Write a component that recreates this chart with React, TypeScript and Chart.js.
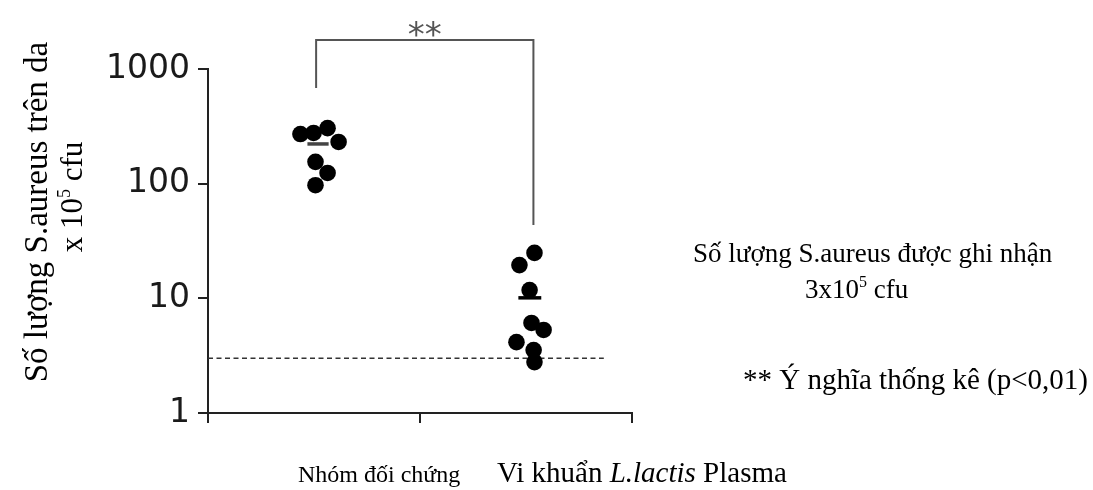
import React, { useEffect, useRef } from "react";
import { Chart, registerables } from "chart.js";

Chart.register(...registerables);

// ---- data ----
const Y_TICKS = [1, 10, 100, 1000];
const X_TICKS = [0, 1, 2];
const CONTROL_X = [0.436, 0.498, 0.564, 0.616, 0.507, 0.564, 0.507];
const CONTROL_Y = [271, 277, 305, 231, 155, 124, 97];
const PLASMA_X = [1.469, 1.54, 1.517, 1.526, 1.583, 1.455, 1.536, 1.54];
const PLASMA_Y = [19.5, 24.9, 11.8, 6.1, 5.3, 4.15, 3.54, 2.78];
const MEAN_CENTER_X = [0.519, 1.518];
const MEAN_HALF_WIDTH = [0.05, 0.054];
const MEAN_Y = [222, 10.1];
const DETECTION_LIMIT = 3;
const DETECTION_LINE_X = [0, 1.867];
const BRACKET_X = [0.51, 1.535];
const BRACKET_Y = [683, 1790, 43.6];
const CATEGORY_LABELS = ["Nhóm đối chứng", "Vi khuẩn ", "L.lactis", " Plasma"];
const Y_TITLE = ["Số lượng S.aureus trên da", "x 10", "5", " cfu"];
const NOTE_LINES = ["Số lượng S.aureus được ghi nhận", "3x10", "5", " cfu"];
const SIG_NOTE = "** Ý nghĩa thống kê (p<0,01)";
const SIG_MARK = "**";

const SERIF = '"Liberation Serif", "Times New Roman", serif';

function drawPieces(
  ctx: CanvasRenderingContext2D,
  pieces: { t: string; font: string; dy?: number }[],
  x: number,
  y: number,
  align: "left" | "center"
) {
  let total = 0;
  const widths = pieces.map((p) => {
    ctx.font = p.font;
    const w = ctx.measureText(p.t).width;
    total += w;
    return w;
  });
  let cx = align === "center" ? x - total / 2 : x;
  ctx.textAlign = "left";
  pieces.forEach((p, i) => {
    ctx.font = p.font;
    ctx.fillText(p.t, cx, y + (p.dy || 0));
    cx += widths[i];
  });
}

const textPlugin = {
  id: "textPlugin",
  afterDraw(chart: any) {
    const ctx: CanvasRenderingContext2D = chart.ctx;
    const xs = chart.scales.x;
    const ys = chart.scales.y;
    ctx.save();
    ctx.textBaseline = "alphabetic";

    // significance mark
    ctx.fillStyle = "#555";
    ctx.font = '34px "DejaVu Sans", sans-serif';
    ctx.textAlign = "center";
    const midX = xs.getPixelForValue((BRACKET_X[0] + BRACKET_X[1]) / 2);
    const topY = ys.getPixelForValue(BRACKET_Y[1]);
    ctx.fillText(SIG_MARK, midX, topY + 6);

    ctx.fillStyle = "#000";
    // y title (rotated)
    ctx.save();
    ctx.translate(47, 212);
    ctx.rotate(-Math.PI / 2);
    ctx.font = `33px ${SERIF}`;
    ctx.textAlign = "center";
    ctx.fillText(Y_TITLE[0], 0, 0);
    ctx.restore();
    ctx.save();
    ctx.translate(82, 197);
    ctx.rotate(-Math.PI / 2);
    drawPieces(
      ctx,
      [
        { t: Y_TITLE[1], font: `31px ${SERIF}` },
        { t: Y_TITLE[2], font: `18px ${SERIF}`, dy: -12 },
        { t: Y_TITLE[3], font: `31px ${SERIF}` },
      ],
      0,
      0,
      "center"
    );
    ctx.restore();

    // category labels
    ctx.font = `24px ${SERIF}`;
    ctx.textAlign = "left";
    ctx.fillText(CATEGORY_LABELS[0], 298, 482);
    drawPieces(
      ctx,
      [
        { t: CATEGORY_LABELS[1], font: `29px ${SERIF}` },
        { t: CATEGORY_LABELS[2], font: `italic 29px ${SERIF}` },
        { t: CATEGORY_LABELS[3], font: `29px ${SERIF}` },
      ],
      497,
      482,
      "left"
    );

    // right notes
    ctx.font = `27px ${SERIF}`;
    ctx.textAlign = "left";
    ctx.fillText(NOTE_LINES[0], 693, 262);
    drawPieces(
      ctx,
      [
        { t: NOTE_LINES[1], font: `27px ${SERIF}` },
        { t: NOTE_LINES[2], font: `16px ${SERIF}`, dy: -11 },
        { t: NOTE_LINES[3], font: `27px ${SERIF}` },
      ],
      805,
      298,
      "left"
    );
    ctx.font = `29px ${SERIF}`;
    ctx.textAlign = "left";
    ctx.fillText(SIG_NOTE, 743, 389);
    ctx.restore();
  },
};

export default function App() {
  const ref = useRef<HTMLCanvasElement | null>(null);
  useEffect(() => {
    if (!ref.current) return;
    const pts = (xs: number[], ys: number[]) => xs.map((x, i) => ({ x, y: ys[i] }));
    const meanLine = (i: number) => [
      { x: MEAN_CENTER_X[i] - MEAN_HALF_WIDTH[i], y: MEAN_Y[i] },
      { x: MEAN_CENTER_X[i] + MEAN_HALF_WIDTH[i], y: MEAN_Y[i] },
    ];
    const lineBase = {
      type: "line" as const,
      showLine: true,
      pointRadius: 0,
      fill: false,
      tension: 0,
      clip: false as any,
    };
    const chart = new Chart(ref.current, {
      type: "scatter",
      data: {
        datasets: [
          {
            data: pts(CONTROL_X, CONTROL_Y),
            backgroundColor: "#000",
            borderWidth: 0,
            pointRadius: 8.3,
            order: 0,
          },
          {
            data: pts(PLASMA_X, PLASMA_Y),
            backgroundColor: "#000",
            borderWidth: 0,
            pointRadius: 8.3,
            order: 0,
          },
          { ...lineBase, data: meanLine(0), borderColor: "#444", borderWidth: 3.5, order: 1 },
          { ...lineBase, data: meanLine(1), borderColor: "#000", borderWidth: 3.5, order: 1 },
          {
            ...lineBase,
            data: DETECTION_LINE_X.map((x) => ({ x, y: DETECTION_LIMIT })),
            borderColor: "#333",
            borderWidth: 1.5,
            borderDash: [5, 3.5],
            order: 2,
          },
          {
            ...lineBase,
            data: [
              { x: BRACKET_X[0], y: BRACKET_Y[0] },
              { x: BRACKET_X[0], y: BRACKET_Y[1] },
              { x: BRACKET_X[1], y: BRACKET_Y[1] },
              { x: BRACKET_X[1], y: BRACKET_Y[2] },
            ],
            borderColor: "#555",
            borderWidth: 2,
            order: 2,
          },
        ] as any,
      },
      options: {
        responsive: false,
        animation: false,
        layout: { padding: { top: 69, right: 461, bottom: 0, left: 0 } },
        plugins: { legend: { display: false }, tooltip: { enabled: false } },
        scales: {
          x: {
            type: "linear",
            min: 0,
            max: 2,
            afterBuildTicks: (s: any) => {
              s.ticks = X_TICKS.map((v) => ({ value: v }));
            },
            afterFit: (s: any) => {
              s.height = 77;
            },
            ticks: { display: false },
            grid: { drawOnChartArea: false, drawTicks: true, tickLength: 10, color: "#222", lineWidth: 2 },
            border: { display: true, color: "#222", width: 2 },
          },
          y: {
            type: "logarithmic",
            min: 1,
            max: 1000,
            afterBuildTicks: (s: any) => {
              s.ticks = Y_TICKS.map((v) => ({ value: v }));
            },
            afterFit: (s: any) => {
              s.width = 208;
            },
            ticks: {
              callback: (v: any) => String(v),
              font: { family: '"DejaVu Sans", sans-serif', size: 33 },
              color: "#1a1a1a",
              padding: 8,
            },
            grid: { drawOnChartArea: false, drawTicks: true, tickLength: 10, color: "#222", lineWidth: 2 },
            border: { display: true, color: "#222", width: 2 },
          },
        },
      } as any,
      plugins: [textPlugin],
    });
    return () => chart.destroy();
  }, []);
  return (
    <div style={{ position: "absolute", left: 0, top: 0, width: 1093, height: 490, background: "#fff" }}>
      <canvas ref={ref} width={1093} height={490} style={{ width: 1093, height: 490, display: "block" }} />
    </div>
  );
}
